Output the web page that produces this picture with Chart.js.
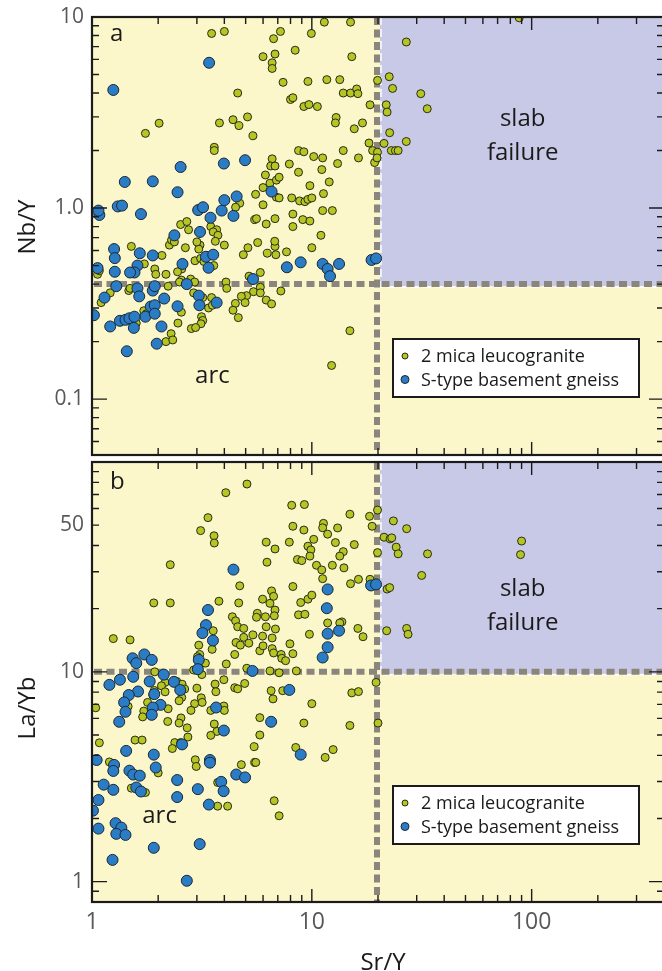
<!DOCTYPE html>
<html>
<head>
<meta charset="utf-8">
<script src="https://cdn.jsdelivr.net/npm/chart.js@4"></script>
<style>
  html, body { margin: 0; padding: 0; background: #fff; overflow: hidden; }
  #wrap { position: relative; width: 662px; height: 971px; overflow: hidden; }
  canvas { position: absolute; left: 0; }
  #chartA { top: 0; }
  #chartB { top: 458px; }
</style>
</head>
<body>
<div id="wrap">
  <canvas id="chartA" width="665" height="460"></canvas>
  <canvas id="chartB" width="665" height="522"></canvas>
</div>
<script>
Chart.defaults.font.family = "'Open Sans', 'DejaVu Sans', sans-serif";

// Sr/Y axis and field boundaries
const srYMin = 1, srYMax = 400;
const srYLimit = 20;
const nbYLimit = 0.4;
const laYbLimit = 10;
const nbYMin = 0.051, nbYMax = 10;
const laYbMin = 0.8, laYbMax = 100;

const xLabelValues = [1, 10, 100];
const xLabelText = ['1', '10', '100'];
const nbYLabelValues = [0.1, 1, 10];
const nbYLabelText = ['0.1', '1.0', '10'];
const laYbLabelValues = [1, 10, 50];
const laYbLabelText = ['1', '10', '50'];

const seriesNames = ['2 mica leucogranite', 'S-type basement gneiss'];

// panel a: [Sr/Y, Nb/Y]
const leucoNbY = [
  [3.5,8.2],[4.0,8.4],[6.7,7.7],[7.2,8.4],[9.95,8.2],[11.4,9.4],[8.4,6.7],[6.0,6.2],[6.8,6.4],[6.6,5.76],
  [6.6,5.38],[7.4,4.55],[9.6,4.6],[11.7,4.7],[4.6,4.0],[8.0,3.7],[8.2,3.78],[9.2,3.4],[9.7,3.48],[10.6,3.4],
  [3.8,2.79],[4.38,2.9],[4.66,2.7],[5.1,3.0],[5.4,2.39],[2.02,2.78],[1.75,2.46],[3.6,2.08],[3.6,2.0],[8.7,2.0],
  [9.2,1.97],[10.2,1.86],[11.2,1.83],[6.6,1.81],[6.5,1.66],[6.8,1.66],[7.9,1.7],[8.7,1.54],[11.1,1.59],[12.0,1.37],
  [6.15,1.49],[6.45,1.35],[6.9,1.4],[7.1,1.45],[6.0,1.28],[5.55,1.18],[6.9,1.14],[7.1,1.13],[8.1,1.13],[8.8,1.09],
  [9.3,1.08],[9.6,1.11],[10.0,1.13],[9.8,1.31],[11.3,1.19],[6.0,1.04],[4.7,1.06],[4.5,1.01],[11.2,0.97],[8.2,0.93],
  [9.1,0.87],[9.8,0.855],[6.8,0.88],[5.5,0.87],[5.6,0.88],[6.2,0.825],[8.2,0.8],[11.0,0.72],[2.53,0.82],[2.7,0.85],
  [2.75,0.77],[3.47,0.8],[3.69,0.77],[3.56,0.75],[3.74,0.72],
  [15.0,9.4],[15.2,6.2],[13.4,4.7],[13.9,4.0],[15.0,4.0],[16.0,4.2],[16.2,3.97],[18.4,3.47],[12.9,2.98],[12.8,2.79],
  [17.0,2.79],[15.6,2.6],[18.2,2.19],[18.9,2.0],[19.9,1.96],[13.9,2.0],[16.3,1.83],[13.1,1.71],[19.3,1.73],[19.8,1.83],
  [12.4,0.97],[19.9,4.66],[22.5,4.87],[23.3,4.23],[21.8,3.47],[22.0,3.18],[26.9,7.4],[31.3,3.97],[33.5,3.31],[22.6,2.48],
  [21.3,2.18],[26.9,2.23],[23.0,2.0],[24.0,2.0],[24.7,2.0],[87.8,9.9],
  [1.51,0.63],[2.08,0.565],[1.73,0.51],[1.93,0.48],[1.95,0.45],[2.17,0.45],[2.25,0.64],[2.3,0.68],[2.37,0.665],[2.66,0.62],
  [2.94,0.53],[3.1,0.64],[3.06,0.61],[3.0,0.665],[3.12,0.545],[3.23,0.525],[3.58,0.5],[2.56,0.48],[2.45,0.464],[2.55,0.42],
  [2.5,0.41],[2.81,0.425],[2.93,0.41],[3.64,0.67],[4.0,0.64],[4.88,0.57],[5.12,0.62],[5.67,0.66],[6.27,0.58],[6.86,0.57],
  [6.8,0.63],[6.78,0.67],[7.67,0.59],[10.0,0.62],[5.18,0.44],[5.83,0.46],[4.07,0.41],[4.1,0.38],[5.43,0.365],[5.83,0.385],
  [5.83,0.36],[7.23,0.368],[5.05,0.348],[4.78,0.345],[4.97,0.32],[6.2,0.33],[6.56,0.315],[4.49,0.317],[4.38,0.292],[4.63,0.267],
  [3.39,0.3],[3.15,0.27],[3.19,0.258],[3.13,0.248],[2.83,0.234],[2.96,0.237],[3.5,0.34],[3.53,0.31],[2.55,0.285],[2.46,0.25],
  [2.29,0.22],[2.17,0.2],[2.33,0.204],[1.72,0.29],[1.77,0.28],[1.47,0.37],[1.49,0.38],[1.21,0.36],[1.1,0.32],[1.06,0.45],
  [1.08,0.47],[1.59,0.25],[12.3,0.15],[14.9,0.228],[2.22,0.39],[2.9,0.36],[3.19,0.34]
];
const gneissNbY = [
  [1.25,4.15],[3.41,5.76],[2.53,1.64],[1.41,1.37],[1.89,1.38],[3.98,1.71],[4.97,1.78],[2.45,1.21],[1.31,1.02],[1.37,1.03],
  [1.08,0.92],[1.07,0.97],[1.67,0.93],[3.04,0.976],[3.2,1.01],[3.46,0.89],[3.89,0.97],[4.0,1.1],[4.4,0.91],[4.55,1.15],
  [6.56,1.22],[3.1,0.75],[2.37,0.72],
  [1.26,0.61],[1.27,0.547],[1.06,0.485],[1.27,0.464],[1.65,0.58],[1.89,0.565],[1.61,0.5],[1.56,0.46],[1.49,0.46],[2.58,0.51],
  [3.3,0.556],[3.56,0.57],[3.39,0.487],[7.7,0.49],[8.9,0.52],[11.2,0.51],[11.8,0.48],[12.1,0.44],[1.29,0.39],[1.61,0.38],
  [1.89,0.37],[1.93,0.39],[2.7,0.4],[5.4,0.425],[1.14,0.34],[1.64,0.345],[2.13,0.336],[3.06,0.348],[3.08,0.31],[3.69,0.32],
  [1.85,0.305],[1.93,0.31],[2.45,0.306],[1.75,0.27],[1.93,0.28],[1.02,0.275],[1.34,0.257],[1.42,0.26],[1.48,0.265],[1.56,0.27],
  [1.55,0.236],[1.21,0.24],[2.07,0.24],[1.97,0.195],[1.44,0.178],
  [13.3,0.51],[18.7,0.535],[19.6,0.545]
];

// panel b: [Sr/Y, La/Yb]
const leucoLaYb = [
  [5.07,78.5],[4.06,71.4],[3.37,54.3],[3.12,47.1],[3.59,44.5],[3.6,41.1],[2.27,32.4],[1.91,21.3],[2.27,21.3],[3.78,21.7],
  [1.25,14.4],[1.49,14.2],[8.1,62.2],[9.25,62.7],[8.2,49.4],[9.2,47.4],[11.3,51],[11.2,48.6],[11.8,45.3],[6.2,41.5],
  [6.8,38.5],[7.9,41.5],[9.6,39.7],[9.9,38.1],[10.2,42.8],[9.8,35.6],[6.25,33.3],[8.6,34.3],[9.0,33.9],[10.5,32.2],
  [11.1,30.6],[11.2,27.8],[4.7,25.7],[8.2,25.5],[4.65,21.3],[5.97,22.2],[6.56,24.3],[6.7,22.9],[6.45,21.2],[8.9,21.4],
  [9.6,22.2],[10.0,23.2],[4.35,18.3],[4.5,17.5],[5.65,19],[5.6,18.2],[6.15,18.3],[6.8,19.7],[6.75,18.5],[8.7,18.7],
  [9.3,18.8],[9.75,15.1],[6.2,16.4],[4.6,16.4],[4.9,16.1],[5.4,15],[4.9,14.6],[5.97,14.8],[6.6,14.5],[4.52,13.8],
  [4.73,13.4],[5.17,13.7],[5.8,12.6],[6.0,13.3],[6.6,12.9],[6.7,12.3],[7.25,12.1],[7.3,11.6],[7.6,11.3],[7.95,13.6],
  [8.2,12.2],[4.46,12.1],[4.08,10.9],[5.06,10.4],[6.45,10.1],[7.1,9.9],[8.5,10.1],[3.06,13.4],[3.09,12.1],[3.02,11.8],
  [3.56,15.7],[3.53,14.1],[3.52,12.8],[3.28,11.0],[1.93,10.0],
  [14.9,56.4],[18.3,55.1],[18.8,49.4],[19.9,59],[13.1,48.5],[23.5,52.4],[27,48.1],[21.3,43.8],[22.7,43],[23.1,43.5],
  [12.8,41.3],[15.6,40.4],[13.9,37.4],[13.4,35.6],[19.9,37],[24.2,39.3],[24.7,36.5],[33.6,36.5],[12.4,32.2],[14.0,31.3],
  [90,42],[89,36.2],[31.6,28.8],[15,26.3],[16.3,27.6],[18.4,27.6],[22,24.8],[22.6,25.2],[13.7,17.3],[13.4,17.1],
  [16.2,16.1],[17.1,14.7],[21.9,15.7],[27,16.1],[27.4,15.1],
  [11.8,17.1],[19.6,8.9],[15.2,7.94],[16.3,8.05],[10.0,7.05],[9.2,5.7],[14.9,5.55],[20.0,5.7],[8.45,4.36],[12.5,4.26],
  [11.5,3.91],
  [6.83,16.0],[2.9,10.2],[3.16,9.7],[3.63,8.74],[3.66,8.04],[3.0,8.36],[3.14,7.52],[3.17,7.15],[2.93,7.05],[2.82,6.55],
  [3.47,6.55],[3.98,9.17],[3.98,6.87],[4.0,6.55],[3.6,5.64],[3.7,5.2],[3.47,4.98],[2.71,5.41],[2.73,4.89],[2.54,6.03],
  [2.49,5.7],[2.21,5.8],[2.56,7.55],[2.49,7.28],[2.43,9.0],[2.57,8.73],[2.64,8.28],[2.15,8.9],[2.07,8.58],[2.15,8.03],
  [1.92,8.15],[1.89,7.75],[1.87,6.17],[1.72,6.5],[1.7,6.1],[1.79,7.15],[2.22,6.67],[1.46,6.84],[1.04,6.74],[1.08,4.59],
  [1.57,4.73],[1.69,4.73],[2.38,4.6],[2.32,4.31],[2.53,4.6],[4.46,8.4],[4.6,8.3],[4.95,8.8],[6.53,8.13],[6.66,7.43],
  [7.37,8.13],[5.8,6.05],[5.8,5.0],[5.47,4.4],
  [1.2,3.72],[1.75,2.66],[1.51,2.79],[2.95,3.81],[2.98,3.54],[2.0,3.3],[3.73,2.97],[3.73,2.29],[4.14,2.29],[4.78,3.61],
  [5.5,3.7],[5.56,3.7],[6.74,2.43],[7.1,2.06]
];
const gneissLaYb = [
  [4.4,30.7],[3.37,19.7],[3.3,16.7],[3.18,15.3],[3.55,14.1],[3.06,11.4],[3.03,10.3],[1.53,11.6],[1.59,11.0],[1.73,12.1],
  [1.87,11.4],[2.12,9.7],[5.37,10.1],[11.8,24.7],[11.7,20.1],[11.8,15.2],[11.2,11.7],[11.8,13.1],
  [18.6,25.8],[19.6,26.1],[13.3,15.7],[7.9,8.2],[8.9,4.03],
  [2.36,8.96],[2.52,8.19],[1.83,9.0],[1.92,7.83],[2.05,6.96],[1.89,6.76],[1.87,6.24],[1.62,8.06],[1.54,9.47],[1.34,9.17],
  [1.2,8.67],[1.47,7.75],[1.4,7.15],[1.42,6.45],[1.33,5.78],[1.43,4.2],[1.91,4.03],[3.67,6.76],[3.98,5.25],[2.57,4.51],
  [6.53,5.78],[3.44,3.8],[1.05,3.8],
  [1.95,3.5],[1.26,3.6],[1.25,3.37],[1.48,3.38],[1.54,3.24],[1.65,3.2],[1.59,2.81],[1.67,2.69],[1.13,2.9],[1.25,2.74],
  [1.07,2.45],[1.01,2.18],[1.07,1.79],[1.28,1.9],[1.36,1.81],[1.29,1.69],[1.42,1.67],[1.24,1.27],[1.91,1.45],[2.44,3.05],
  [2.44,2.53],[3.03,2.76],[3.44,3.69],[3.4,2.33],[3.87,2.99],[3.97,2.7],[4.53,3.24],[4.97,3.14],[3.09,1.51],[2.7,1.01]
];

const leucoStyle = { backgroundColor: '#b4c524', borderColor: '#2a2c14', pointRadius: 4, borderWidth: 1 };
const gneissStyle = { backgroundColor: '#2a7cc4', borderColor: '#1b2836', pointRadius: 5.5, borderWidth: 1 };

function logTicks(min, max) {
  const out = [];
  for (let e = Math.floor(Math.log10(min)); e <= Math.ceil(Math.log10(max)); e++) {
    for (let m = 1; m <= 9; m++) {
      const v = +(m * Math.pow(10, e)).toPrecision(6);
      if (v >= min * 0.999 && v <= max * 1.001) out.push(v);
    }
  }
  return out;
}
function isDecade(v) {
  const l = Math.log10(v);
  return Math.abs(l - Math.round(l)) < 1e-6;
}
function labelFor(v, values, texts) {
  const i = values.findIndex(t => Math.abs(Math.log10(v / t)) < 1e-6);
  return i < 0 ? '' : texts[i];
}
function toPoints(pairs) {
  return pairs.map(p => ({ x: p[0], y: p[1] }));
}
// keep the plot frame exactly where the layout padding puts it
function noScalePadding(s) {
  s.paddingTop = 0; s.paddingBottom = 0; s.paddingLeft = 0; s.paddingRight = 0;
}

const panelDecor = {
  id: 'panelDecor',
  beforeDatasetsDraw(chart, args, opts) {
    const { ctx, chartArea: a, scales: { x, y } } = chart;
    const vx = x.getPixelForValue(srYLimit);
    const hy = y.getPixelForValue(opts.yLimit);
    ctx.save();
    ctx.fillStyle = '#fbf7cb';
    ctx.fillRect(a.left, a.top, a.right - a.left, a.bottom - a.top);
    // slab failure field
    ctx.fillStyle = '#c8c9e6';
    ctx.fillRect(vx + 2, a.top, a.right - vx - 2, hy + 2 - a.top);
    ctx.strokeStyle = 'rgba(255,255,255,0.95)';
    ctx.lineWidth = 1.5;
    ctx.setLineDash([8, 4]);
    ctx.beginPath();
    ctx.moveTo(vx + 3, a.top);
    ctx.lineTo(vx + 3, hy + 3);
    ctx.lineTo(a.right, hy + 3);
    ctx.stroke();
    // dashed boundaries
    ctx.strokeStyle = '#8a857d';
    ctx.lineWidth = 6;
    ctx.setLineDash([8, 4.5]);
    ctx.beginPath();
    ctx.moveTo(a.left + 2, hy);
    ctx.lineTo(a.right, hy);
    ctx.stroke();
    ctx.beginPath();
    ctx.moveTo(vx - 1, a.top);
    ctx.lineTo(vx - 1, a.bottom);
    ctx.stroke();
    ctx.setLineDash([]);

    // field names
    ctx.fillStyle = '#1a1a1a';
    ctx.font = "24px 'Open Sans'";
    ctx.textAlign = 'center';
    ctx.textBaseline = 'alphabetic';
    ctx.fillText('arc', x.getPixelForValue(opts.arc[0]), y.getPixelForValue(opts.arc[1]));
    const sx = x.getPixelForValue(opts.slab[0]);
    const sy = y.getPixelForValue(opts.slab[1]);
    ctx.fillText('slab', sx, sy);
    ctx.fillText('failure', sx, sy + 34);
    ctx.textAlign = 'left';
    ctx.fillText(opts.tag, a.left + 18, a.top + opts.tagDy);
    ctx.restore();
  },
  afterDatasetsDraw(chart, args, opts) {
    const { ctx, chartArea: a, scales: { x, y } } = chart;
    ctx.save();
    ctx.strokeStyle = '#1b1b1b';
    ctx.lineWidth = 1.4;
    ctx.beginPath();
    logTicks(srYMin, srYMax).forEach(v => {
      const px = x.getPixelForValue(v);
      if (px <= a.left + 1 || px >= a.right - 1) return;
      const len = isDecade(v) ? 13 : 7;
      ctx.moveTo(px, a.top); ctx.lineTo(px, a.top + len);
      ctx.moveTo(px, a.bottom); ctx.lineTo(px, a.bottom - len);
    });
    logTicks(y.min, y.max).forEach(v => {
      const py = y.getPixelForValue(v);
      if (py <= a.top + 1 || py >= a.bottom - 1) return;
      const len = isDecade(v) ? 15 : 7;
      ctx.moveTo(a.left, py); ctx.lineTo(a.left + len, py);
      ctx.moveTo(a.right, py); ctx.lineTo(a.right - len, py);
    });
    ctx.stroke();
    ctx.lineWidth = 2.2;
    ctx.strokeRect(a.left, a.top, a.right - a.left, a.bottom - a.top);

    // legend box
    const bx = 393, by = a.bottom - 116, bw = 246, bh = 58;
    ctx.fillStyle = '#fff';
    ctx.fillRect(bx, by, bw, bh);
    ctx.lineWidth = 2;
    ctx.strokeRect(bx, by, bw, bh);
    const entries = [chart.data.datasets[1], chart.data.datasets[0]];
    ctx.font = "18px 'Open Sans'";
    ctx.textAlign = 'left';
    ctx.textBaseline = 'middle';
    entries.forEach((ds, i) => {
      const cy = by + 17 + i * 23.5;
      ctx.beginPath();
      ctx.arc(bx + 12, cy, i === 0 ? 3 : 4, 0, Math.PI * 2);
      ctx.fillStyle = ds.backgroundColor;
      ctx.fill();
      ctx.lineWidth = 1;
      ctx.strokeStyle = ds.borderColor;
      ctx.stroke();
      ctx.fillStyle = '#1a1a1a';
      ctx.fillText(ds.label, bx + 28, cy + 1);
    });

    // axis titles
    ctx.fillStyle = '#1a1a1a';
    ctx.font = "24px 'Open Sans'";
    ctx.textAlign = 'center';
    ctx.textBaseline = 'alphabetic';
    (opts.titles || []).forEach(t => {
      ctx.save();
      ctx.translate(t.x, t.y);
      if (t.rotate) ctx.rotate(-Math.PI / 2);
      ctx.fillText(t.text, 0, 0);
      ctx.restore();
    });
    ctx.restore();
  }
};

function panelConfig(leuco, gneiss, yMin, yMax, yLabelValues, yLabelText, decor, showX, padding) {
  return {
    type: 'scatter',
    data: {
      datasets: [
        Object.assign({ label: seriesNames[1], data: toPoints(gneiss) }, gneissStyle),
        Object.assign({ label: seriesNames[0], data: toPoints(leuco) }, leucoStyle)
      ]
    },
    options: {
      responsive: false,
      animation: false,
      layout: { padding: padding, autoPadding: false },
      plugins: { legend: { display: false }, tooltip: { enabled: false }, panelDecor: decor },
      scales: {
        x: {
          type: 'logarithmic',
          min: srYMin,
          max: srYMax,
          display: showX,
          grid: { display: false, drawTicks: false },
          border: { display: false },
          afterBuildTicks: s => { s.ticks = logTicks(srYMin, srYMax).map(v => ({ value: v })); },
          afterFit: s => { if (showX) s.height = 78; noScalePadding(s); },
          ticks: {
            autoSkip: false,
            maxRotation: 0,
            padding: 7,
            color: '#58585a',
            font: { size: 23 },
            callback: v => labelFor(v, xLabelValues, xLabelText)
          }
        },
        y: {
          type: 'logarithmic',
          min: yMin,
          max: yMax,
          grid: { display: false, drawTicks: false },
          border: { display: false },
          afterBuildTicks: s => { s.ticks = logTicks(yMin, yMax).map(v => ({ value: v })); },
          afterFit: s => { s.width = 92; noScalePadding(s); },
          ticks: {
            autoSkip: false,
            padding: 8,
            color: '#58585a',
            font: { size: 21 },
            callback: v => labelFor(v, yLabelValues, yLabelText)
          }
        }
      }
    },
    plugins: [panelDecor]
  };
}

new Chart(
  document.getElementById('chartA'),
  panelConfig(leucoNbY, gneissNbY, nbYMin, nbYMax, nbYLabelValues, nbYLabelText, {
    yLimit: nbYLimit,
    tag: 'a',
    tagDy: 24,
    arc: [3.53, 0.121],
    slab: [91, 2.69],
    titles: [{ text: 'Nb/Y', x: 35, y: 227, rotate: true }]
  }, false, { top: 17, right: 1, bottom: 5, left: 0 })
);

new Chart(
  document.getElementById('chartB'),
  panelConfig(leucoLaYb, gneissLaYb, laYbMin, laYbMax, laYbLabelValues, laYbLabelText, {
    yLimit: laYbLimit,
    tag: 'b',
    tagDy: 27,
    arc: [2.03, 1.9],
    slab: [91, 23.1],
    titles: [
      { text: 'La/Yb', x: 35, y: 708 - 458, rotate: true },
      { text: 'Sr/Y', x: 383, y: 970 - 458, rotate: false }
    ]
  }, true, { top: 4, right: 1, bottom: 0, left: 0 })
);
</script>
</body>
</html>
